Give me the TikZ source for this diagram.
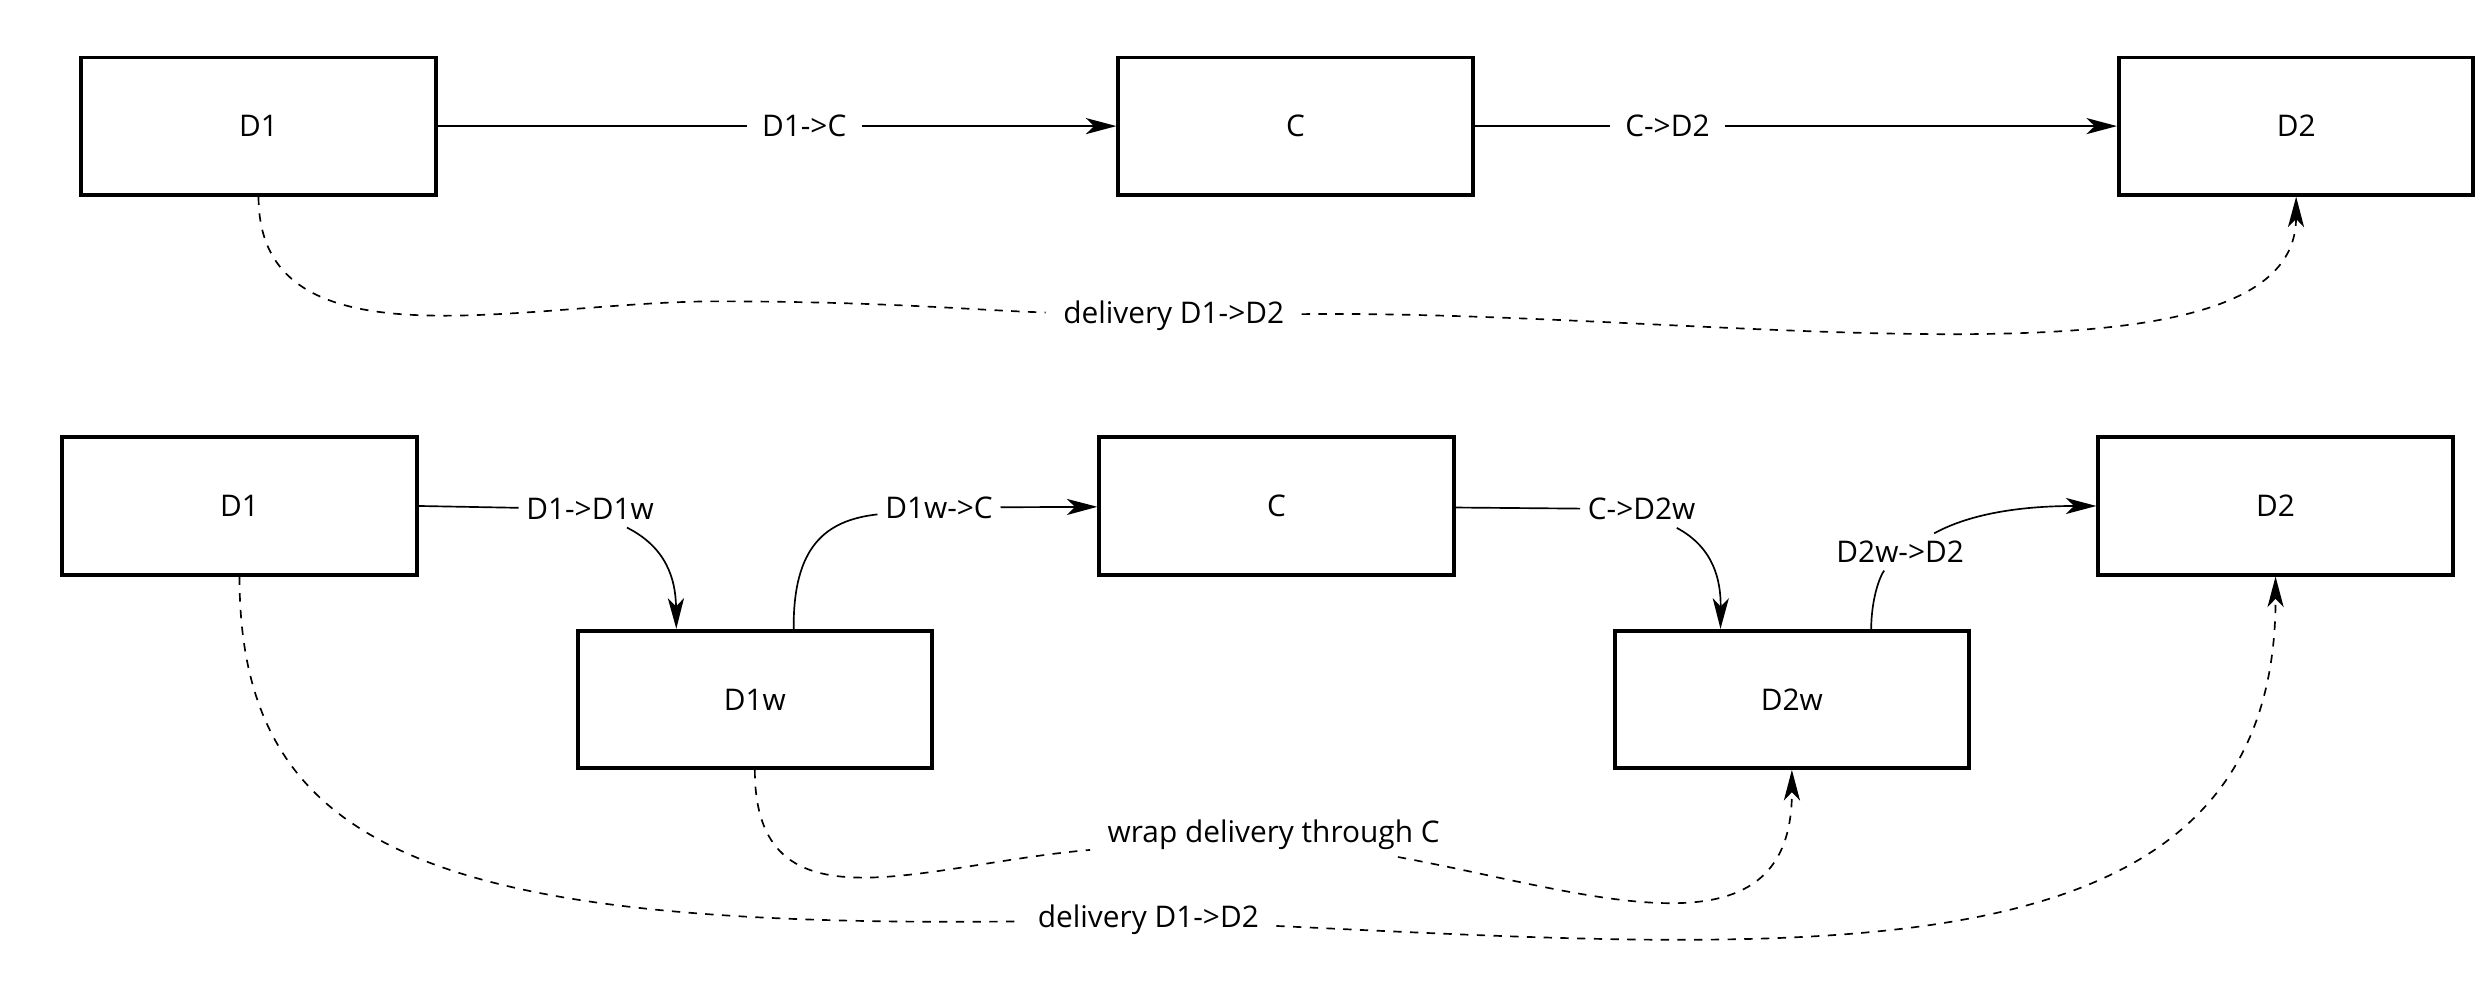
\documentclass[tikz,border=0pt]{standalone}
\usepackage{fontspec}
\setmainfont{Open Sans}
\usetikzlibrary{arrows.meta,positioning}

\begin{document}
\begin{tikzpicture}[>={Stealth[length=11pt,width=5.8pt,inset=3pt]},x=0.02cm,y=-0.02cm,
    font=\fontsize{10.7pt}{13pt}\selectfont,
    box/.style={draw,line width=1.4pt,minimum width=4.47cm,minimum height=1.73cm},
    lbl/.style={fill=white,inner sep=2.5pt},
    dline/.style={line width=0.6pt,dash pattern=on 3pt off 3pt},
    every path/.style={line width=0.6pt}]

    \useasboundingbox (0,0) rectangle (1568,631.75);

    % direct path
    \node[box] (t1) at (163,79.5) {D1};
    \node[box] (tc) [right=8.56cm of t1] {C};
    \node[box] (t2) [right=8.1cm of tc] {D2};

    \node[lbl,inner xsep=6pt] (ltd) at (740,199) {delivery D1->D2};

    \path[->] (t1) edge node[lbl,inner xsep=5.5pt,pos=0.54] {D1->C} (tc)
              (tc) edge node[lbl,inner xsep=5.5pt,pos=0.30] {C->D2} (t2);

    \draw[dline,->] (t1.south) .. controls (163,235) and (330,190) .. (452,190)
        .. controls (560,190) and (620,196) .. (ltd)
        .. controls (1080,195) and (1447,255) .. (t2.south);

    % wrapped path
    \node[box] (b1) at (151,319) {D1};
    \node[box] (bc) [right=8.56cm of b1] {C};
    \node[box] (b2) [right=8.08cm of bc] {D2};
    \node[box] (w1) [below right=0.66cm and 1.98cm of b1] {D1w};
    \node[box] (w2) [below right=0.66cm and 1.98cm of bc] {D2w};

    \node[lbl] (l11) at (372,321) {D1->D1w};
    \node[lbl] (l12) at (592,320) {D1w->C};
    \node[lbl] (l13) at (1035,321) {C->D2w};
    \node[lbl] (l14) at (1198,348) {D2w->D2};
    \node[lbl,inner xsep=6pt] (lwr) at (803,526) {wrap delivery through C};
    \node[lbl,inner xsep=6pt] (lbd) at (724,580) {delivery D1->D2};

    \draw[->] (b1.east) -- (l11) .. controls (420,345) and (426,365) .. ([xshift=-0.99cm]w1.north);
    \draw[->] ([xshift=0.49cm]w1.north) .. controls (500,345) and (520,328) .. (l12) -- (bc);
    \draw[->] (bc) -- (l13) .. controls (1080,345) and (1085,365) .. ([xshift=-0.9cm]w2.north);
    \draw[->] ([xshift=1cm]w2.north) .. controls (1180,375) and (1186,362) .. (l14)
        .. controls (1240,325) and (1270,319) .. (b2);

    \draw[dline,->] (w1.south) .. controls (476,590) and (580,545) .. (lwr)
        .. controls (1000,562) and (1130,610) .. (w2.south);
    \draw[dline,->] (b1.south) .. controls (151,540) and (280,585) .. (lbd)
        .. controls (1150,600) and (1435,620) .. (b2.south);

\end{tikzpicture}
\end{document}
